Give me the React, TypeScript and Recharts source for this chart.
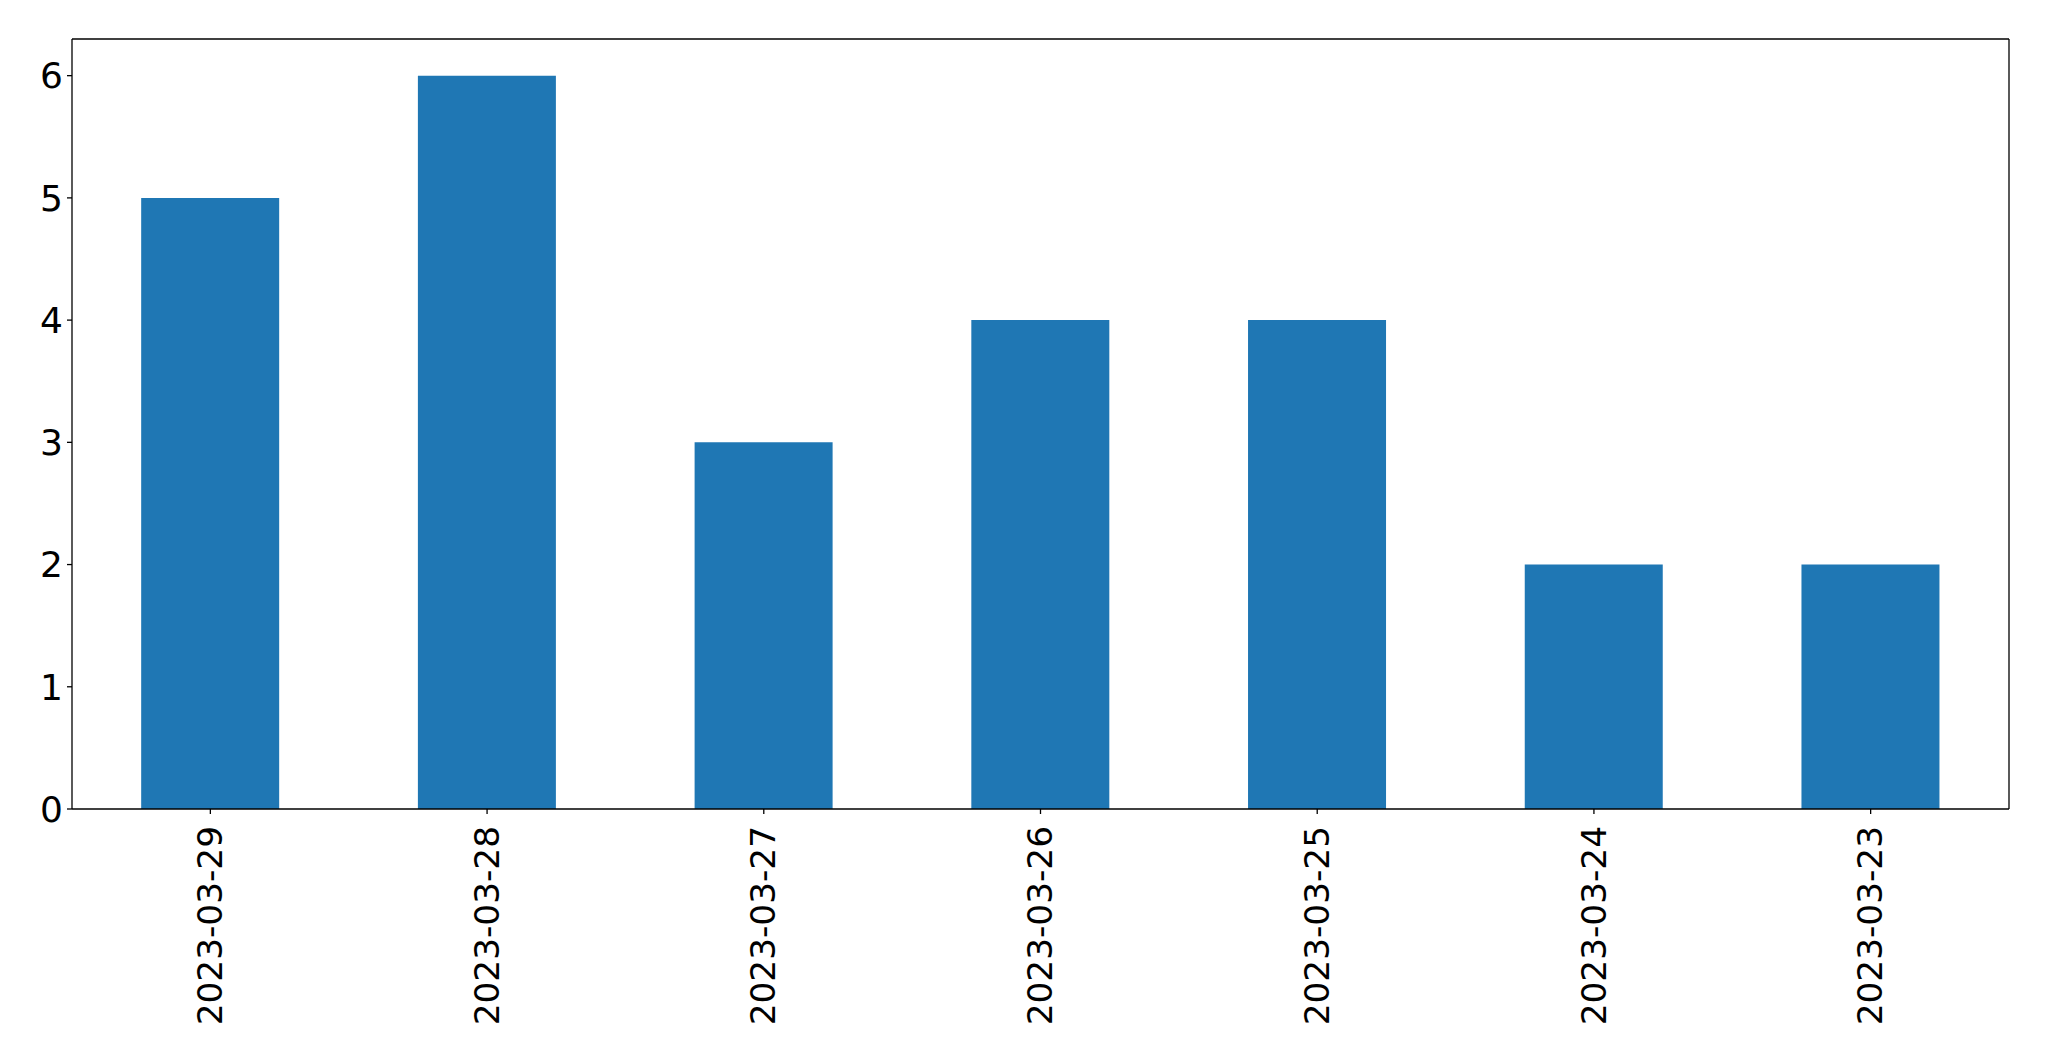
import React from 'react';
import { BarChart, Bar, XAxis, YAxis, CartesianGrid } from 'recharts';

const dates = ['2023-03-29', '2023-03-28', '2023-03-27', '2023-03-26', '2023-03-25', '2023-03-24', '2023-03-23'];
const counts = [5, 6, 3, 4, 4, 2, 2];
const yTicks = [0, 1, 2, 3, 4, 5, 6];

const data = dates.map((d, i) => ({ date: d, count: counts[i] }));

const FONT = '"DejaVu Sans", sans-serif';

const RotatedTick = (props: any) => {
  const { x, y, payload } = props;
  return (
    <g transform={`translate(${x},${y})`}>
      <text transform="rotate(-90)" textAnchor="end" dy="0.34em" fontSize={34.3} fontFamily={FONT} fill="#000">
        {payload.value}
      </text>
    </g>
  );
};

export default function App() {
  return (
    <div style={{ position: 'absolute', left: 0, top: 0, background: '#fff' }}>
      <BarChart
        width={2049}
        height={1061}
        data={data}
        margin={{ top: 39, right: 40, bottom: 0, left: 0 }}
        barCategoryGap="25%"
      >
        {/* top and right edges of the frame */}
        <CartesianGrid
          stroke="#000"
          strokeWidth={1.3}
          horizontalCoordinatesGenerator={({ offset }: any) => [offset.top]}
          verticalCoordinatesGenerator={({ offset }: any) => [offset.left + offset.width]}
        />
        <XAxis
          dataKey="date"
          height={252}
          tick={<RotatedTick />}
          tickSize={5}
          tickMargin={12}
          interval={0}
          stroke="#000"
          axisLine={{ stroke: '#000', strokeWidth: 1.3 }}
          tickLine={{ stroke: '#000', strokeWidth: 1.3 }}
        />
        <YAxis
          width={72}
          domain={[0, 6.3]}
          ticks={yTicks}
          tickSize={5}
          tickMargin={4}
          interval={0}
          tick={{ fontSize: 36, fontFamily: FONT, fill: '#000' }}
          axisLine={{ stroke: '#000', strokeWidth: 1.3 }}
          tickLine={{ stroke: '#000', strokeWidth: 1.3 }}
          allowDataOverflow
        />
        <Bar dataKey="count" fill="#1f77b4" isAnimationActive={false} />
      </BarChart>
    </div>
  );
}
